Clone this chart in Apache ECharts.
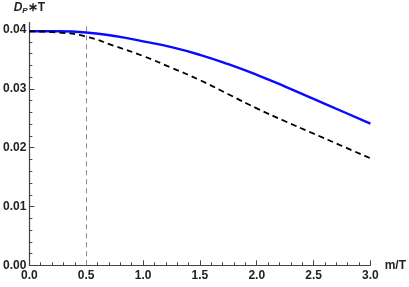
<!DOCTYPE html>
<html>
<head>
<meta charset="utf-8">
<script src="https://cdn.jsdelivr.net/npm/echarts@6/dist/echarts.min.js"></script>
<style>html,body{margin:0;padding:0;background:#fff;}#c{width:409px;height:287px;}</style>
</head>
<body>
<div id="c"></div>
<script>
const xValues = [0, 0.25, 0.5, 0.75, 1.0, 1.25, 1.5, 1.75, 2.0, 2.25, 2.5, 2.75, 3.0];
const solidValues = [0.0398, 0.0398, 0.0396, 0.0390, 0.0381, 0.0371, 0.0358, 0.0342, 0.0324, 0.0304, 0.0283, 0.0262, 0.0241];
const dashedValues = [0.0398, 0.0396, 0.0389, 0.0373, 0.0356, 0.0336, 0.0315, 0.0291, 0.0267, 0.0245, 0.0224, 0.0203, 0.0182];
const yMajorTicks = [0, 0.01, 0.02, 0.03, 0.04];
const yMinorTicks = [0.002,0.004,0.006,0.008,0.012,0.014,0.016,0.018,0.022,0.024,0.026,0.028,0.032,0.034,0.036,0.038];
const markerX = 0.5;

const chart = echarts.init(document.getElementById('c'), null, {renderer: 'canvas'});
const axisColor = '#444';
const labelStyle = {color: '#222', fontWeight: 'bold', fontSize: 12, fontFamily: 'Liberation Sans, Arial, sans-serif'};
const yBase = {
  type: 'value', min: 0, max: 0.0413,
  splitLine: {show: false}
};
chart.setOption({
  animation: false,
  grid: {left: 29, right: 33, top: 22.5, bottom: 21.7, containLabel: false},
  xAxis: {
    type: 'value', min: 0, max: 3, interval: 0.5,
    name: 'm/T', nameLocation: 'end', nameGap: 8,
    nameTextStyle: Object.assign({}, labelStyle, {verticalAlign: 'middle', padding: [4,0,0,0]}),
    axisLine: {show: true, lineStyle: {color: axisColor, width: 1.2}},
    axisTick: {show: true, inside: true, length: 5, lineStyle: {color: axisColor}},
    minorTick: {show: true, splitNumber: 5, length: 3, lineStyle: {color: axisColor}},
    axisLabel: Object.assign({}, labelStyle, {margin: 4, formatter: v => v.toFixed(1)}),
    splitLine: {show: false}
  },
  yAxis: [
    Object.assign({}, yBase, {
      name: '{i|D}{s|P}{n|∗T}', nameLocation: 'end', nameGap: 8,
      nameTextStyle: {
        align: 'center', padding: [0, 0, 0, 0],
        rich: {
          i: {fontStyle: 'italic', fontWeight: 'bold', fontSize: 12, color: '#222', fontFamily: 'Liberation Sans, Arial, sans-serif'},
          s: {fontStyle: 'italic', fontWeight: 'bold', fontSize: 8, color: '#222', padding: [6,0,0,0], fontFamily: 'Liberation Sans, Arial, sans-serif'},
          n: {fontWeight: 'bold', fontSize: 12, color: '#222', fontFamily: 'Liberation Sans, Arial, sans-serif'}
        }
      },
      axisLine: {show: true, lineStyle: {color: axisColor, width: 1.2}},
      axisTick: {show: true, inside: true, length: 5, customValues: yMajorTicks, lineStyle: {color: axisColor}},
      axisLabel: Object.assign({}, labelStyle, {margin: 3, customValues: yMajorTicks, formatter: v => v.toFixed(2)})
    }),
    Object.assign({}, yBase, {
      position: 'left', offset: 0,
      axisLine: {show: false},
      axisTick: {show: true, inside: true, length: 3, customValues: yMinorTicks, lineStyle: {color: axisColor}},
      axisLabel: {show: false}
    })
  ],
  series: [
    {
      type: 'line', yAxisIndex: 0, smooth: true, symbol: 'none',
      data: xValues.map((x, i) => [x, dashedValues[i]]),
      lineStyle: {color: '#000', width: 1.8, type: [6, 4]},
      markLine: {
        silent: true, symbol: 'none', label: {show: false},
        lineStyle: {color: '#888', width: 1, type: [5, 4]},
        data: [{xAxis: markerX}]
      },
      z: 3
    },
    {
      type: 'line', yAxisIndex: 0, smooth: true, symbol: 'none',
      data: xValues.map((x, i) => [x, solidValues[i]]),
      lineStyle: {color: '#0a0aff', width: 2.4},
      z: 2
    }
  ]
});
</script>
</body>
</html>
